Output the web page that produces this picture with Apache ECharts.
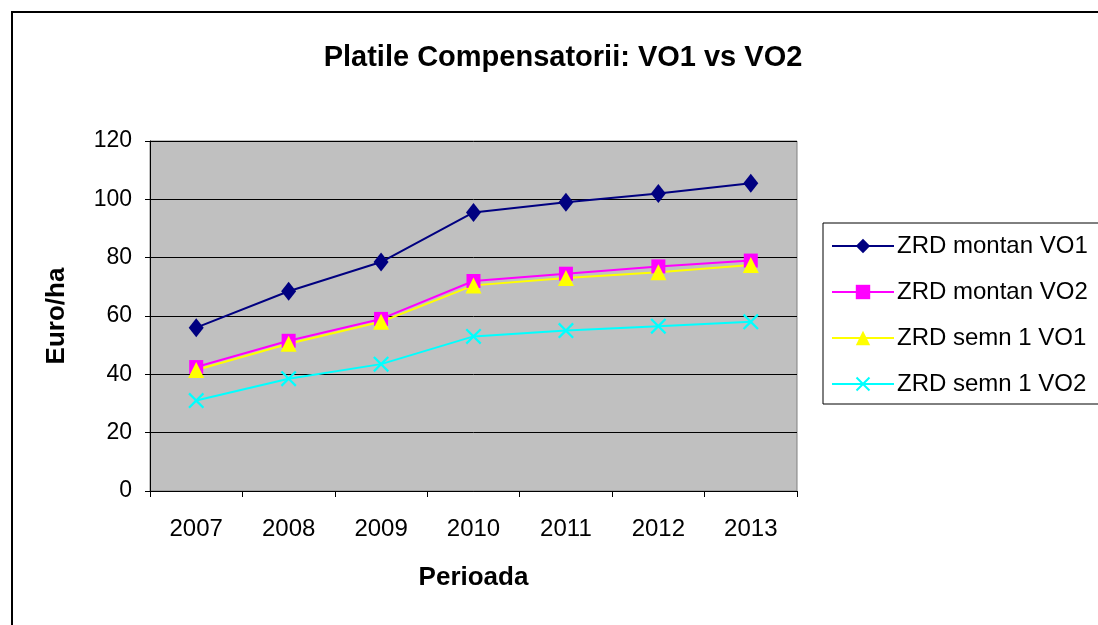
<!DOCTYPE html>
<html>
<head>
<meta charset="utf-8">
<script src="https://cdn.jsdelivr.net/npm/echarts@6/dist/echarts.min.js"></script>
<style>html,body{margin:0;padding:0;background:#fff;}#c{width:1098px;height:625px;}</style>
</head>
<body>
<div id="c"></div>
<script>
const years = ['2007', '2008', '2009', '2010', '2011', '2012', '2013'];
const zrdMontanVO1 = [56, 68.5, 78.5, 95.5, 99, 102, 105.5];
const zrdMontanVO2 = [42.5, 51.5, 59, 72, 74.5, 77, 79];
const zrdSemn1VO1 = [41.5, 50.5, 58, 70.5, 73, 75, 77.5];
const zrdSemn1VO2 = [31, 38.5, 43.5, 53, 55, 56.5, 58];
const seriesNames = ['ZRD montan VO1', 'ZRD montan VO2', 'ZRD semn 1 VO1', 'ZRD semn 1 VO2'];

const FONT = '"Liberation Sans", Arial, sans-serif';
const xSymbol = 'path://M0,1L1,0L5,4L9,0L10,1L6,5L10,9L9,10L5,6L1,10L0,9L4,5Z';

const chart = echarts.init(document.getElementById('c'), null, {renderer: 'canvas'});
function mk(name, data, color, symbol, size) {
  return {
    name: name, type: 'line', data: data,
    symbol: symbol, symbolSize: size, showSymbol: true,
    lineStyle: {color: color, width: 2},
    itemStyle: {color: color},
    emphasis: {disabled: true},
    animation: false
  };
}
chart.setOption({
  animation: false,
  backgroundColor: '#ffffff',
  textStyle: {fontFamily: FONT},
  graphic: [{
    type: 'rect', shape: {x: 12, y: 12, width: 1200, height: 700},
    style: {fill: 'none', stroke: '#000', lineWidth: 2}, silent: true, z: -1
  }],
  title: {
    text: 'Platile Compensatorii: VO1 vs VO2',
    left: 558, top: 38, textAlign: 'center',
    textStyle: {fontFamily: FONT, fontSize: 29, fontWeight: 'bold', color: '#000'}
  },
  legend: {
    orient: 'vertical', left: 823, top: 223,
    padding: [11, 60, 8, 8],
    itemGap: 22, itemWidth: 62, itemHeight: 18,
    borderColor: '#000', borderWidth: 1,
    textStyle: {fontFamily: FONT, fontSize: 24, color: '#000', padding: [0, 0, 0, -2]},
    data: seriesNames
  },
  grid: {
    left: 150, top: 141, width: 647, height: 350,
    show: true, backgroundColor: '#c0c0c0', borderColor: '#808080', borderWidth: 1
  },
  xAxis: {
    type: 'category', data: years, boundaryGap: true,
    name: 'Perioada', nameLocation: 'middle', nameGap: 74,
    nameTextStyle: {fontFamily: FONT, fontSize: 26, fontWeight: 'bold', color: '#000'},
    axisLine: {lineStyle: {color: '#000', width: 1}},
    axisTick: {show: true, length: 6, lineStyle: {color: '#000'}},
    axisLabel: {fontFamily: FONT, fontSize: 24, color: '#000', margin: 26}
  },
  yAxis: {
    type: 'value', min: 0, max: 120, interval: 20,
    name: 'Euro/ha', nameLocation: 'middle', nameGap: 80,
    nameTextStyle: {fontFamily: FONT, fontSize: 26, fontWeight: 'bold', color: '#000'},
    axisLine: {show: true, lineStyle: {color: '#000', width: 1}},
    axisTick: {show: true, length: 5, lineStyle: {color: '#000'}},
    axisLabel: {fontFamily: FONT, fontSize: 23, color: '#000', margin: 18},
    splitLine: {show: true, lineStyle: {color: '#000', width: 1}}
  },
  series: [
    mk(seriesNames[0], zrdMontanVO1, '#000080', 'diamond', [15, 19]),
    mk(seriesNames[1], zrdMontanVO2, '#ff00ff', 'rect', 14),
    mk(seriesNames[2], zrdSemn1VO1, '#ffff00', 'triangle', 16),
    mk(seriesNames[3], zrdSemn1VO2, '#00ffff', xSymbol, 16)
  ]
});
</script>
</body>
</html>
